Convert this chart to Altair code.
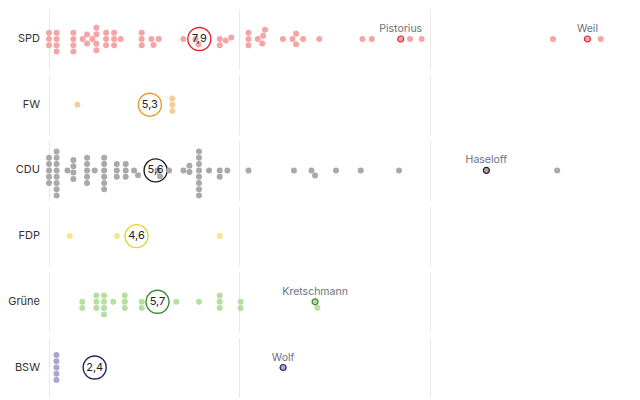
import math
import altair as alt
import pandas as pd

parties = ["SPD", "FW", "CDU", "FDP", "Grüne", "BSW"]

spd = ([0.0] * 3 + [0.4] * 4 + [1.28] * 4 + [1.77] + [2.0] * 2 + [2.28] + [2.49] * 4
       + [3.0] * 3 + [3.42] * 3 + [3.77] + [4.87] * 3
       + [5.38, 5.49, 5.76, 7.06, 7.7, 7.85] + [8.97] * 2 + [9.29, 9.58] + [10.48] * 3
       + [10.97, 11.2, 11.25, 11.35, 12.29, 12.79, 12.98, 12.98, 13.35, 14.2,
          16.47, 16.96, 18.48, 18.97, 19.58, 26.48, 28.29, 28.99])
fw = [1.49, 6.48, 6.48, 6.48]
cdu = ([0.0] * 5 + [0.4] * 8 + [0.97] + [1.28] * 4 + [2.0] * 5 + [2.4] + [2.9] * 6
       + [3.56] * 3 + [4.03] * 3 + [4.47, 4.68, 5.7, 5.83, 6.31, 7.06, 7.38, 7.38]
       + [7.88] * 8 + [8.41, 8.97, 8.97, 9.37, 10.48, 12.87, 13.79, 13.98, 15.08,
                       16.38, 18.39, 22.98, 26.7])
fdp = [1.09, 3.57, 8.97]
gruene = ([1.75] * 2 + [2.49] * 3 + [2.89] * 4 + [3.38] + [3.98] * 3 + [4.87] * 2
          + [6.69, 7.88] + [8.97] * 3 + [10.07] * 2 + [13.98, 14.1])
bsw = [0.39] * 5 + [12.3]

means = [7.9, 5.3, 5.6, 4.6, 5.7, 2.4]

named_party = ["SPD", "SPD", "CDU", "Grüne", "BSW"]
named_value = [18.48, 28.29, 22.98, 13.98, 12.3]
named_label = ["Pistorius", "Weil", "Haseloff", "Kretschmann", "Wolf"]

dot_colors = ["#f5a5a5", "#f8cd9c", "#a9a9a9", "#fae58a", "#b7dfa2", "#aba5d4"]
ring_colors = ["#e3262e", "#e99a30", "#1f1f1f", "#ecd22e", "#3b8a32", "#26235c"]
named_stroke = ["#e06060", "#d08a40", "#555555", "#d8c040", "#5aa04a", "#4a4680"]

W = 571
XMAX = 30
PX = W / XMAX
D = 6.3


def swarm(values):
    placed = []
    out = []
    for v in values:
        x = v * PX
        cands = [0.0]
        for px, py in placed:
            dx = abs(px - x)
            if dx < D:
                dy = math.sqrt(D * D - dx * dx)
                cands += [py + dy, py - dy]
        cands.sort(key=lambda y: (round(abs(y), 6), -y))
        chosen = 0.0
        for y in cands:
            if all((px - x) ** 2 + (py - y) ** 2 >= D * D - 1e-6 for px, py in placed):
                chosen = y
                break
        placed.append((x, chosen))
        out.append(chosen)
    return out


series = [spd, fw, cdu, fdp, gruene, bsw]
rows = []
for p, vals in zip(parties, series):
    offs = swarm(vals)
    used = set()
    for v, o in zip(vals, offs):
        lab = ""
        for np_, nv, nl in zip(named_party, named_value, named_label):
            if np_ == p and abs(nv - v) < 1e-9 and nl not in used:
                lab = nl
                used.add(nl)
        rows.append({"party": p, "value": v, "yo": o, "name": lab, "kind": "dot", "txt": ""})
for p, m in zip(parties, means):
    rows.append({"party": p, "value": m, "yo": 0.0, "name": "", "kind": "mean",
                 "txt": f"{m:.1f}".replace(".", ",")})
all_df = pd.DataFrame(rows)

color_scale = alt.Scale(domain=parties, range=dot_colors)
ring_scale = alt.Scale(domain=parties, range=ring_colors)
nstroke_scale = alt.Scale(domain=parties, range=named_stroke)

xenc = alt.X("value:Q", scale=alt.Scale(domain=[0, XMAX], nice=False),
             axis=alt.Axis(values=[0, 10, 20, 30], labels=False, ticks=False, domain=False,
                           title=None, grid=True, gridColor="#e9e9e9", gridWidth=1))
yenc = alt.Y("yo:Q", scale=alt.Scale(domain=[-30, 30], reverse=True, nice=False, zero=False),
             axis=None)

ring_l = alt.Chart().transform_filter(alt.datum.kind == "mean").mark_point(
    shape="circle", size=530, strokeWidth=1.4, fill="white", fillOpacity=1, opacity=1
).encode(x=xenc, y=yenc, stroke=alt.Stroke("party:N", scale=ring_scale, legend=None))
pts_l = alt.Chart().transform_filter(alt.datum.kind == "dot").mark_circle(size=36, opacity=1).encode(
    x=xenc, y=yenc, color=alt.Color("party:N", scale=color_scale, legend=None))
hl_l = alt.Chart().transform_filter((alt.datum.kind == "dot") & (alt.datum.name != "")).mark_point(
    shape="circle", size=36, filled=False, strokeWidth=1.2, opacity=1
).encode(x=xenc, y=yenc, stroke=alt.Stroke("party:N", scale=nstroke_scale, legend=None))
names_l = alt.Chart().transform_filter((alt.datum.kind == "dot") & (alt.datum.name != "")).mark_text(
    font="Inter", fontSize=10.5, color="#6b7280", dy=-10, baseline="middle"
).encode(x=xenc, y=yenc, text="name:N")
mtext_l = alt.Chart().transform_filter(alt.datum.kind == "mean").mark_text(
    font="Inter", fontSize=11, color="#222222").encode(x=xenc, y=yenc, text="txt:N")
plab_l = alt.Chart().transform_filter(alt.datum.kind == "mean").mark_text(
    font="Inter", fontSize=11, color="#333333", align="right", baseline="middle"
).encode(x=alt.value(-9), y=yenc, text="party:N")

chart = alt.layer(ring_l, pts_l, hl_l, names_l, mtext_l, plab_l, data=all_df).properties(
    width=W, height=60
).facet(
    row=alt.Row("party:N", sort=parties, header=alt.Header(title=None, labels=False)),
    spacing=5.7,
).properties(
    bounds="flush", padding={"left": 0, "top": 1, "right": 0, "bottom": 0}
).resolve_scale(
    x="shared", y="shared"
).configure_view(stroke="transparent", strokeWidth=0)

chart.save("out.html", embed_options={"renderer": "svg", "actions": False})
